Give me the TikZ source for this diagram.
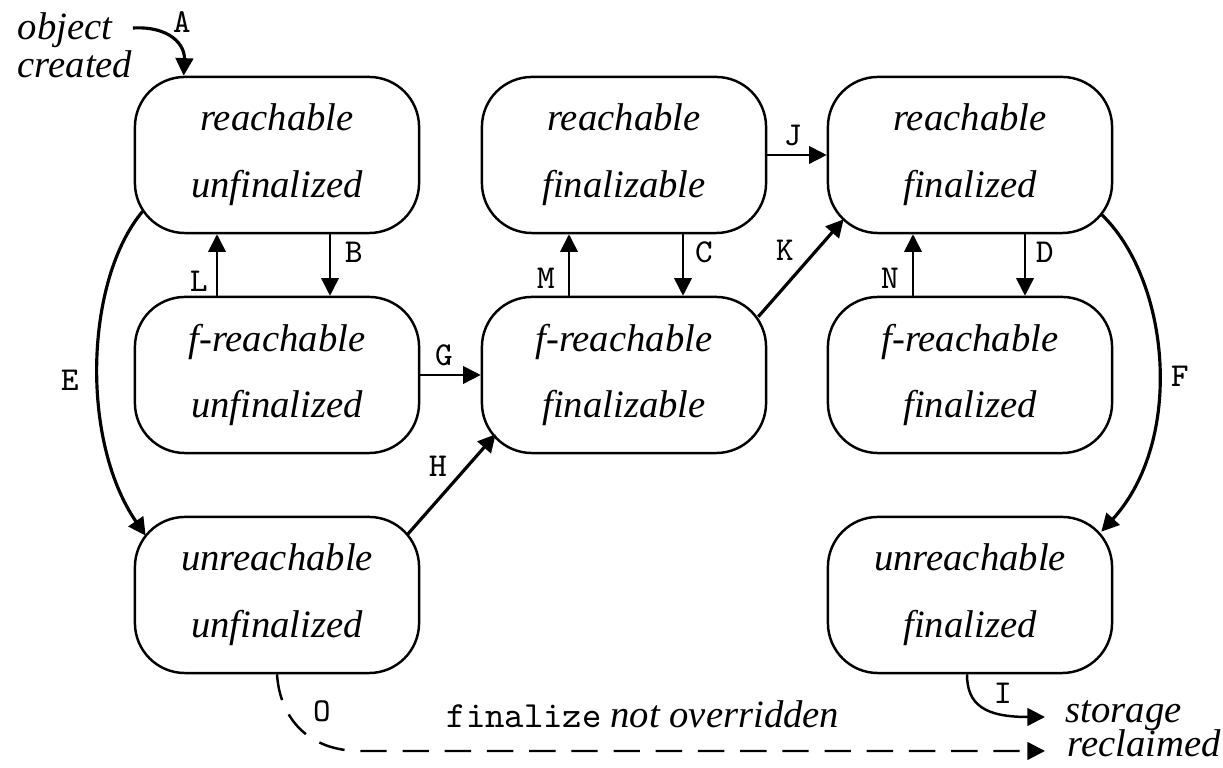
\documentclass[tikz,border=0pt]{standalone}
\usepackage{fontspec}
\setmainfont{Liberation Serif}
\setmonofont{Latin Modern Mono}
\usetikzlibrary{arrows.meta,calc}

\begin{document}
\begin{tikzpicture}[x=0.01cm,y=-0.01cm,
  state/.style={draw, line width=0.7pt, rounded corners=0.5cm,
    minimum width=2.84cm, minimum height=1.56cm, inner sep=0pt,
    align=center, font=\itshape\fontsize{11}{19}\selectfont},
  lbl/.style={inner sep=0pt, font=\ttfamily\fontsize{9.5}{10}\selectfont},
  itxt/.style={inner sep=0pt, font=\itshape\fontsize{11}{13}\selectfont},
  tip/.style={-{Triangle[length=5pt,width=5pt]}},
  thinarrow/.style={tip, line width=0.5pt},
  thickarrow/.style={tip, line width=0.9pt},
  dasharrow/.style={tip, line width=0.7pt, dash pattern=on 7.5pt off 4.5pt},
]
\useasboundingbox (0,0) rectangle (1223,768);

% object states
\node[state] (ru) at (277,155) {reachable\\unfinalized};
\node[state] (rz) at (624,155) {reachable\\finalizable};
\node[state] (rd) at (970,155) {reachable\\finalized};
\node[state] (fu) at (277,375) {f-reachable\\unfinalized};
\node[state] (fz) at (624,375) {f-reachable\\finalizable};
\node[state] (fd) at (970,375) {f-reachable\\finalized};
\node[state] (uu) at (277,595) {unreachable\\unfinalized};
\node[state] (ud) at (970,595) {unreachable\\finalized};

% free texts
\node[itxt, anchor=base west] (obj) at (17,40) {object};
\node[itxt, anchor=base west] (cre) at (17,78) {created};
\node[itxt, anchor=base west] (sto) at (1065,723) {storage};
\node[itxt, anchor=base west] (rec) at (1067,757) {reclaimed};
\node[inner sep=0pt, anchor=base] (fno) at (643,728)
  {{\ttfamily\fontsize{10.5}{11}\selectfont finalize} {\itshape\fontsize{11}{13}\selectfont not overridden}};

% creation
\coordinate (a0) at (133,28);
\draw[thickarrow] (a0) .. controls (170,26) and (185,45) .. ($(ru.north west)+(50,0)$);

% vertical transitions between rows 1 and 2
\draw[thinarrow] ($(fu.north)+(-60,0)$) -- ($(ru.south)+(-60,0)$);
\draw[thinarrow] ($(ru.south)+(53,0)$) -- ($(fu.north)+(53,0)$);
\draw[thinarrow] ($(fz.north)+(-55,0)$) -- ($(rz.south)+(-55,0)$);
\draw[thinarrow] ($(rz.south)+(59,0)$) -- ($(fz.north)+(59,0)$);
\draw[thinarrow] ($(fd.north)+(-57,0)$) -- ($(rd.south)+(-57,0)$);
\draw[thinarrow] ($(rd.south)+(55,0)$) -- ($(fd.north)+(55,0)$);

% horizontal transitions
\draw[thinarrow] (rz.east) -- (rd.west);
\draw[thinarrow] (fu.east) -- (fz.west);

% diagonal transitions
\draw[thickarrow] ($(fz.north east)+(-9,21)$) -- ($(rd.south west)+(17,-15)$);
\draw[thickarrow] ($(uu.north east)+(-13,19)$) -- ($(fz.south west)+(15,-20)$);

% side arcs
\draw[thickarrow] ($(ru.south west)+(9,-23)$) .. controls (85,280) and (80,440) .. ($(uu.north west)+(12,20)$);
\draw[thickarrow] ($(rd.south east)+(-12,-20)$) .. controls (1170,280) and (1185,440) .. ($(ud.north east)+(-12,16)$);

% reclamation
\draw[thinarrow, line width=0.7pt] ($(ud.south)+(-3,0)$) .. controls (967,705) and (985,717) .. ($(sto.base west)+(-20,-6)$);
\coordinate (obend) at (360,751);
\draw[dasharrow] (uu.south) .. controls (280,720) and (310,751) .. (obend) -- ($(rec.base west)+(-22,-6)$);

% transition labels
\node[lbl] (lA) at (182,22) {A};
\node[lbl] (lB) at (354,252) {B};
\node[lbl] (lC) at (704,252) {C};
\node[lbl] (lD) at (1045,252) {D};
\node[lbl] (lE) at (70,380) {E};
\node[lbl] (lF) at (1180,376) {F};
\node[lbl] (lG) at (444,355) {G};
\node[lbl] (lH) at (438,466) {H};
\node[lbl] (lI) at (1003,693) {I};
\node[lbl] (lJ) at (793,135) {J};
\node[lbl] (lK) at (785,250) {K};
\node[lbl] (lL) at (199,281) {L};
\node[lbl] (lM) at (546,278) {M};
\node[lbl] (lN) at (890,278) {N};
\node[lbl] (lO) at (322,711) {O};
\end{tikzpicture}
\end{document}
